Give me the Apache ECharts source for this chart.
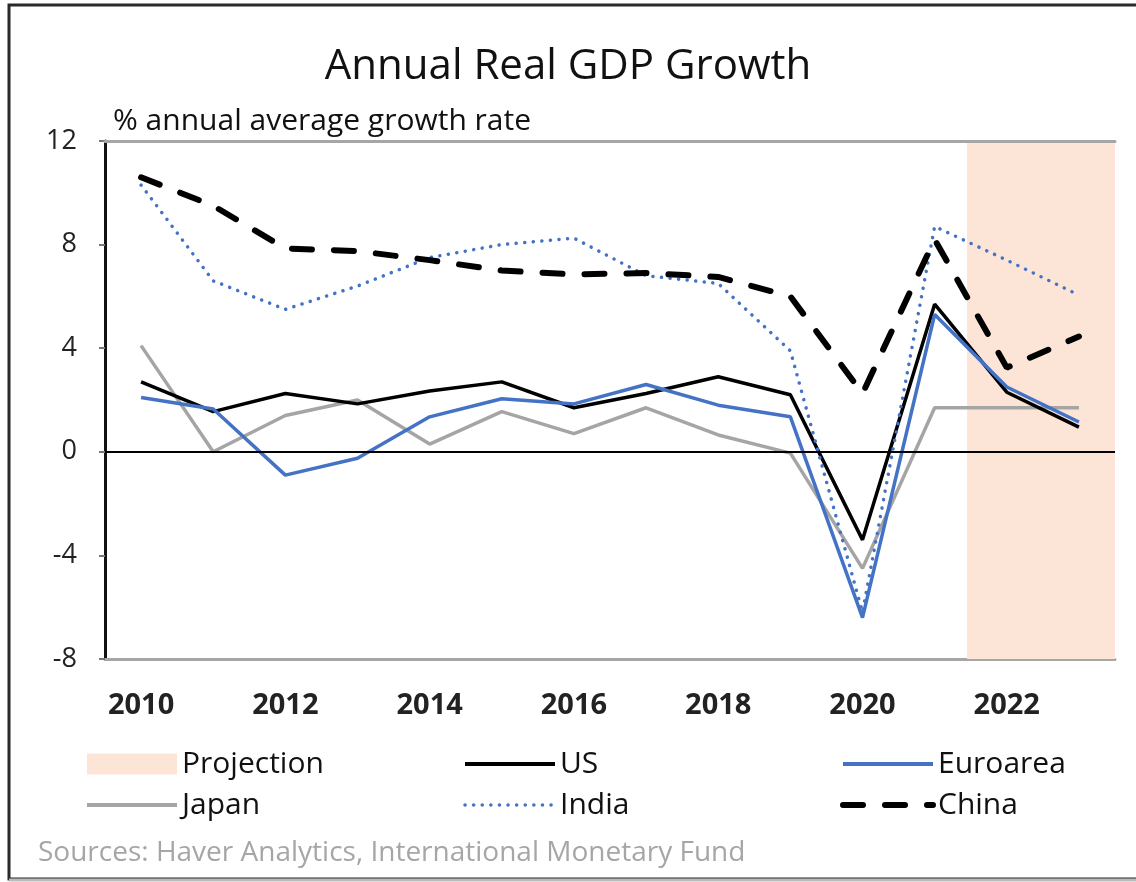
<!DOCTYPE html>
<html lang="en" style="height: 100%">
<head>
  <meta charset="utf-8">
</head>
<body style="height: 100%; margin: 0; background: #fff">
  <div id="container" style="width: 1136px; height: 882px"></div>

  <script type="text/javascript" src="https://cdn.jsdelivr.net/npm/echarts@6/dist/echarts.min.js"></script>
  <script type="text/javascript">
    // data
    var years = [2010, 2011, 2012, 2013, 2014, 2015, 2016, 2017, 2018, 2019, 2020, 2021, 2022, 2023];
    var usGrowth    = [2.7, 1.55, 2.25, 1.85, 2.35, 2.7, 1.7, 2.25, 2.9, 2.2, -3.4, 5.7, 2.3, 0.95];
    var euroGrowth  = [2.1, 1.65, -0.9, -0.25, 1.35, 2.05, 1.85, 2.6, 1.8, 1.35, -6.4, 5.3, 2.5, 1.15];
    var japanGrowth = [4.1, 0.0, 1.4, 2.0, 0.3, 1.55, 0.7, 1.7, 0.65, -0.05, -4.5, 1.7, 1.7, 1.7];
    var indiaGrowth = [10.3, 6.6, 5.5, 6.4, 7.5, 8.0, 8.25, 6.8, 6.5, 3.9, -6.2, 8.7, 7.4, 6.05];
    var chinaGrowth = [10.6, 9.5, 7.85, 7.75, 7.4, 7.0, 6.85, 6.9, 6.75, 6.0, 2.25, 8.2, 3.25, 4.45];
    var xTickLabels = [2010, 2012, 2014, 2016, 2018, 2020, 2022];
    var projectionStart = 2021.45;
    var projectionEnd = 2023.5;

    var FONT = "'Open Sans', 'Noto Sans', sans-serif";

    function pairs(vals) {
      return years.map(function (y, i) { return [y, vals[i]]; });
    }

    var dom = document.getElementById('container');
    var myChart = echarts.init(dom, null, { renderer: 'canvas' });

    var legendText = { fontFamily: FONT, fontSize: 30, lineHeight: 32, color: '#111' };
    var noSym = { opacity: 0 };

    var option = {
      animation: false,
      backgroundColor: '#fff',
      title: [
        {
          text: 'Annual Real GDP Growth',
          left: 'center',
          top: 41,
          textStyle: { fontFamily: FONT, fontSize: 42, fontWeight: 'normal', color: '#111' }
        },
        {
          text: '% annual average growth rate',
          left: 108,
          top: 101,
          textStyle: { fontFamily: FONT, fontSize: 30, fontWeight: 'normal', color: '#111' }
        }
      ],
      grid: { left: 105, right: 21, top: 141, bottom: 223 },
      legend: [
        {
          orient: 'vertical', left: 80, top: 743, itemWidth: 90, itemHeight: 21, itemGap: 9,
          textStyle: legendText,
          data: [
            { name: 'Projection', icon: 'rect', itemStyle: { color: '#FCE4D6', opacity: 1 } },
            { name: 'Japan', itemStyle: noSym, lineStyle: { width: 4 } }
          ]
        },
        {
          orient: 'vertical', left: 458, top: 743, itemWidth: 90, itemHeight: 21, itemGap: 9,
          textStyle: legendText,
          data: [
            { name: 'US', itemStyle: noSym, lineStyle: { width: 4 } },
            { name: 'India', itemStyle: noSym, lineStyle: { width: 3.5 } }
          ]
        },
        {
          orient: 'vertical', left: 835, top: 743, itemWidth: 90, itemHeight: 21, itemGap: 9,
          textStyle: legendText,
          data: [
            { name: 'Euroarea', itemStyle: noSym, lineStyle: { width: 4 } },
            { name: 'China', itemStyle: noSym, lineStyle: { width: 6 } }
          ]
        }
      ],
      xAxis: [
        {
          type: 'value',
          min: 2009.5,
          max: 2023.5,
          splitLine: { show: false },
          axisLine: { show: true, onZero: false, lineStyle: { color: '#A6A6A6', width: 3 } },
          axisTick: { show: false },
          axisLabel: {
            customValues: xTickLabels,
            formatter: function (v) { return String(v); },
            margin: 32,
            fontFamily: FONT,
            fontSize: 29,
            fontWeight: 'bold',
            color: '#222'
          }
        },
        {
          type: 'value',
          position: 'top',
          min: 2009.5,
          max: 2023.5,
          z: 5,
          splitLine: { show: false },
          axisLine: { show: true, onZero: false, lineStyle: { color: '#A6A6A6', width: 3 } },
          axisTick: { show: false },
          axisLabel: { show: false }
        }
      ],
      yAxis: {
        type: 'value',
        min: -8,
        max: 12,
        interval: 4,
        splitLine: { show: false },
        axisLine: { show: true, onZero: false, lineStyle: { color: '#111', width: 3 } },
        axisTick: { show: true, length: 6, lineStyle: { color: '#777', width: 2 } },
        axisLabel: { margin: 28, fontFamily: FONT, fontSize: 27, color: '#222' }
      },
      series: [
        {
          name: 'Projection',
          type: 'line',
          data: [],
          z: 1,
          itemStyle: { color: '#FCE4D6' },
          lineStyle: { width: 0 },
          markArea: {
            silent: true,
            itemStyle: { color: '#FCE4D6' },
            data: [[{ xAxis: projectionStart, yAxis: 12 }, { xAxis: projectionEnd, yAxis: -8 }]]
          }
        },
        {
          name: 'Japan',
          type: 'line',
          data: pairs(japanGrowth),
          symbol: 'none',
          z: 3,
          itemStyle: { color: '#A5A5A5' },
          lineStyle: { color: '#A5A5A5', width: 3.5 },
          markLine: {
            silent: true,
            symbol: 'none',
            label: { show: false },
            lineStyle: { color: '#000', width: 2, type: 'solid' },
            data: [{ yAxis: 0 }]
          }
        },
        {
          name: 'US',
          type: 'line',
          data: pairs(usGrowth),
          symbol: 'none',
          z: 4,
          itemStyle: { color: '#000' },
          lineStyle: { color: '#000', width: 3.5 }
        },
        {
          name: 'Euroarea',
          type: 'line',
          data: pairs(euroGrowth),
          symbol: 'none',
          z: 4,
          itemStyle: { color: '#4472C4' },
          lineStyle: { color: '#4472C4', width: 3.5 }
        },
        {
          name: 'India',
          type: 'line',
          data: pairs(indiaGrowth),
          symbol: 'none',
          z: 4,
          itemStyle: { color: '#4472C4' },
          lineStyle: { color: '#4472C4', width: 3.5, type: [0.1, 8.5], cap: 'round' }
        },
        {
          name: 'China',
          type: 'line',
          data: pairs(chinaGrowth),
          symbol: 'none',
          z: 4,
          itemStyle: { color: '#000' },
          lineStyle: { color: '#000', width: 6, type: [20, 22], cap: 'round' }
        }
      ],
      graphic: [
        {
          type: 'text',
          left: 38,
          top: 839,
          style: {
            text: 'Sources: Haver Analytics, International Monetary Fund',
            fontFamily: FONT,
            fontSize: 28,
            fill: '#A6A6A6'
          }
        },
        {
          type: 'rect',
          shape: { x: 9, y: 5, width: 1200, height: 874 },
          style: { fill: 'none', stroke: '#2a2a2a', lineWidth: 3 },
          silent: true
        },
        {
          type: 'line',
          shape: { x1: 9, y1: 880, x2: 1136, y2: 880 },
          style: { stroke: '#bbb', lineWidth: 3 },
          silent: true
        }
      ]
    };

    myChart.setOption(option);
    window.addEventListener('resize', myChart.resize);
  </script>
</body>
</html>
